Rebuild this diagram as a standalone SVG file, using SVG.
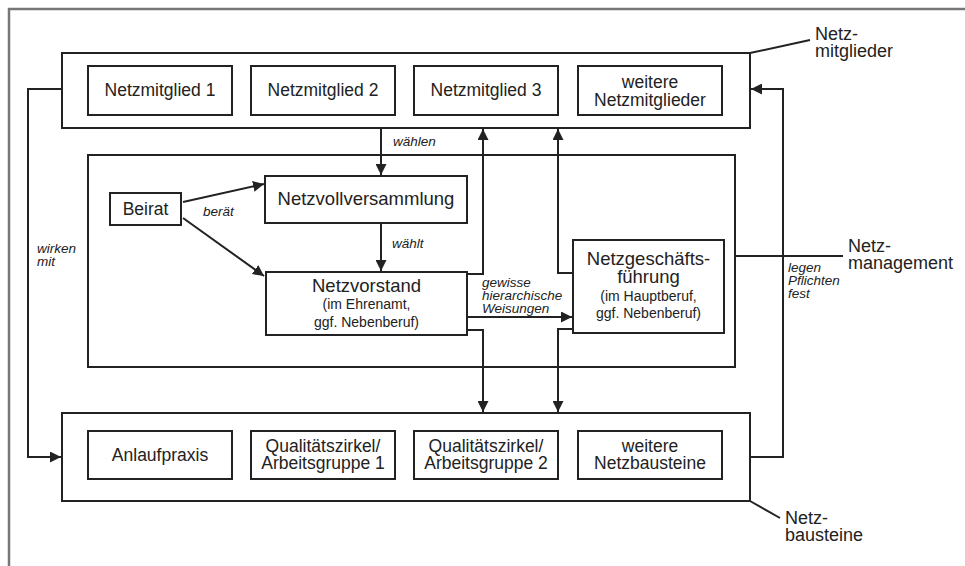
<svg xmlns="http://www.w3.org/2000/svg" width="965" height="566" viewBox="0 0 965 566">
<style>
.box{fill:#fff;stroke:#222;stroke-width:2}
.frame{fill:none;stroke:#777;stroke-width:2.5}
.con{fill:none;stroke:#222;stroke-width:2}
.t{font-family:"Liberation Sans",Arial,sans-serif;fill:#222;text-anchor:middle}
.b{font-size:17.5px}
.s{font-size:14px}
.i{font-family:"Liberation Sans",Arial,sans-serif;font-style:italic;fill:#222;font-size:13.5px}
.l{font-family:"Liberation Sans",Arial,sans-serif;fill:#222;font-size:18px}
</style>
<defs>
<marker id="ah" markerUnits="userSpaceOnUse" markerWidth="11" markerHeight="11" refX="10" refY="5" orient="auto" viewBox="0 0 10 10">
<path d="M0,0 L10,5 L0,10 z" fill="#222"/>
</marker>
</defs>
<rect width="965" height="566" fill="#fff"/>
<path class="frame" d="M9,566 V9 H965"/>

<g id="containers">
<rect id="netzmitglieder-container" class="box" x="62" y="53" width="688" height="75"/>
<rect id="netzmanagement-container" class="box" x="88" y="155" width="647" height="212"/>
<rect id="netzbausteine-container" class="box" x="62" y="413" width="688" height="88"/>
</g>

<g id="connectors">
<path class="con" d="M381,128 V175" marker-end="url(#ah)"/>
<path class="con" d="M381,223 V271" marker-end="url(#ah)"/>
<path class="con" d="M183,202 L264,184" marker-end="url(#ah)"/>
<path class="con" d="M183,218 L264,276" marker-end="url(#ah)"/>
<path class="con" d="M467,274 H483 V129" marker-end="url(#ah)"/>
<path class="con" d="M467,330 H483 V412" marker-end="url(#ah)"/>
<path class="con" d="M467,317 H572" marker-end="url(#ah)"/>
<path class="con" d="M573,273 H558 V129" marker-end="url(#ah)"/>
<path class="con" d="M573,329 H558 V412" marker-end="url(#ah)"/>
<path class="con" d="M62,89 H28 V457 H61" marker-end="url(#ah)"/>
<path class="con" d="M750,457 H783 V89 H751" marker-end="url(#ah)"/>
<path class="con" d="M735,256 H843"/>
<path class="con" d="M750,53 L810,40"/>
<path class="con" d="M750,501 L780,518"/>
</g>

<g id="netzmitglied-1"><rect class="box" x="88" y="66" width="144" height="49"/><text class="t b" x="160" y="96">Netzmitglied 1</text></g>
<g id="netzmitglied-2"><rect class="box" x="251" y="66" width="144" height="49"/><text class="t b" x="323" y="96">Netzmitglied 2</text></g>
<g id="netzmitglied-3"><rect class="box" x="414" y="66" width="144" height="49"/><text class="t b" x="486" y="96">Netzmitglied 3</text></g>
<g id="weitere-netzmitglieder"><rect class="box" x="578" y="66" width="144" height="49"/><text class="t b" x="650" y="88">weitere</text><text class="t b" x="650" y="106">Netzmitglieder</text></g>

<g id="beirat"><rect class="box" x="110" y="193" width="71" height="32"/><text class="t b" x="145.5" y="215">Beirat</text></g>
<g id="netzvollversammlung"><rect class="box" x="265" y="176" width="202" height="47"/><text class="t b" x="366" y="205" style="font-size:18.5px">Netzvollversammlung</text></g>
<g id="netzvorstand"><rect class="box" x="266" y="272" width="201" height="63"/><text class="t b" x="366.5" y="292" style="font-size:18.5px">Netzvorstand</text><text class="t s" x="366.5" y="309">(im Ehrenamt,</text><text class="t s" x="366.5" y="327">ggf. Nebenberuf)</text></g>
<g id="netzgeschaeftsfuehrung"><rect class="box" x="573" y="240" width="151" height="93"/><text class="t b" x="648.5" y="265" style="font-size:18.5px">Netzgeschäfts-</text><text class="t b" x="648.5" y="283" style="font-size:18.5px">führung</text><text class="t s" x="648.5" y="301">(im Hauptberuf,</text><text class="t s" x="648.5" y="318">ggf. Nebenberuf)</text></g>

<g id="anlaufpraxis"><rect class="box" x="88" y="431" width="144" height="48"/><text class="t b" x="160" y="461">Anlaufpraxis</text></g>
<g id="qualitaetszirkel-1"><rect class="box" x="251" y="431" width="144" height="48"/><text class="t b" x="323" y="452">Qualitätszirkel/</text><text class="t b" x="323" y="469">Arbeitsgruppe 1</text></g>
<g id="qualitaetszirkel-2"><rect class="box" x="414" y="431" width="144" height="48"/><text class="t b" x="486" y="452">Qualitätszirkel/</text><text class="t b" x="486" y="469">Arbeitsgruppe 2</text></g>
<g id="weitere-netzbausteine"><rect class="box" x="578" y="431" width="144" height="48"/><text class="t b" x="650" y="452">weitere</text><text class="t b" x="650" y="469">Netzbausteine</text></g>

<g id="labels">
<text class="i" x="393" y="146">wählen</text>
<text class="i" x="392" y="248">wählt</text>
<text class="i" x="203" y="216">berät</text>
<text class="i" x="37" y="253">wirken</text>
<text class="i" x="37" y="266">mit</text>
<text class="i" x="482" y="287">gewisse</text>
<text class="i" x="482" y="300">hierarchische</text>
<text class="i" x="482" y="313">Weisungen</text>
<text class="i" x="788" y="272">legen</text>
<text class="i" x="788" y="285">Pflichten</text>
<text class="i" x="788" y="298">fest</text>
<text class="l" x="815" y="40">Netz-</text>
<text class="l" x="815" y="57">mitglieder</text>
<text class="l" x="848" y="252">Netz-</text>
<text class="l" x="848" y="269">management</text>
<text class="l" x="785" y="524">Netz-</text>
<text class="l" x="785" y="541">bausteine</text>
</g>
</svg>
